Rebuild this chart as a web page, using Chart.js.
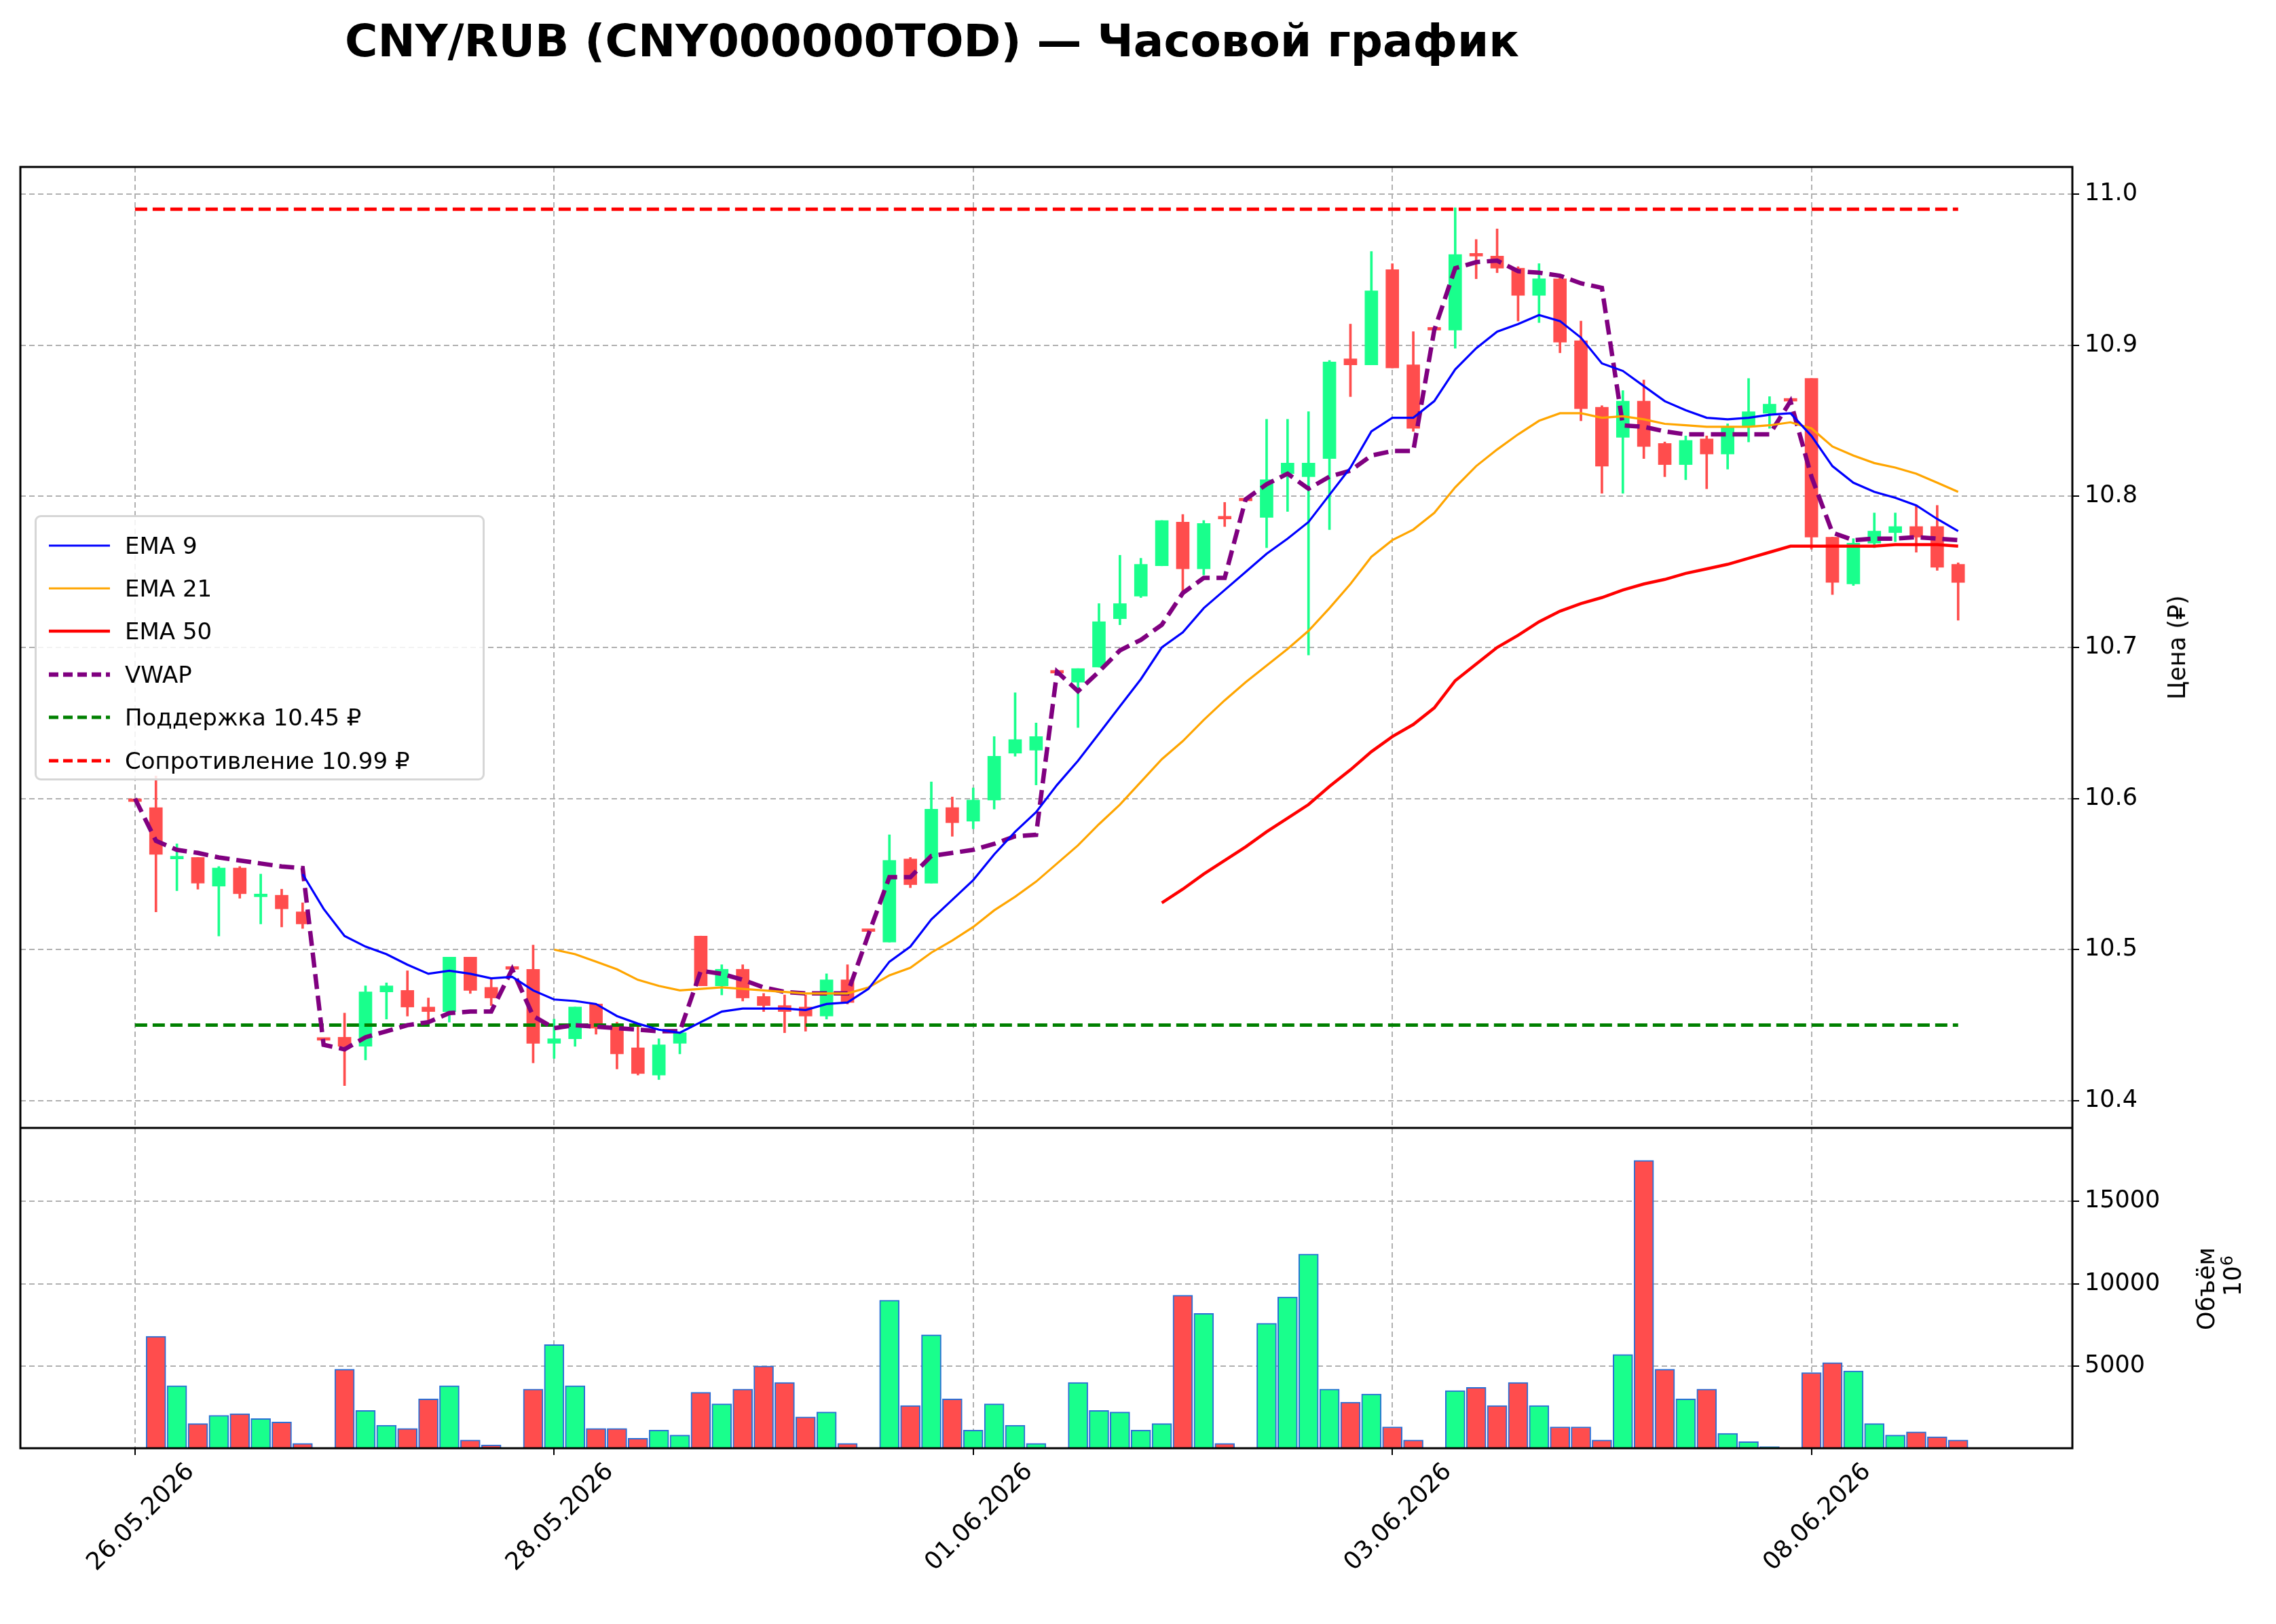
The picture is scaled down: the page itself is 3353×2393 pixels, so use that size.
<!DOCTYPE html>
<html><head><meta charset="utf-8">
<script src="https://cdn.jsdelivr.net/npm/chart.js@4.4.1/dist/chart.umd.min.js"></script>
<style>
body{margin:0;background:#fff;font-family:'DejaVu Sans',sans-serif;}
#wrap{position:relative;width:3353px;height:2393px;}
.ov{position:absolute;white-space:nowrap;color:#000;}
</style></head><body>
<div id="wrap"><canvas id="c" width="3353" height="2393"></canvas>
<div class="ov" style="left:1373px;top:60px;transform:translate(-50%,-50%);font-weight:bold;font-size:66px;">CNY/RUB (CNY000000TOD) — Часовой график</div>
<div class="ov" style="left:3207px;top:954px;transform:translate(-50%,-50%) rotate(-90deg);font-size:35px;">Цена (₽)</div>
<div class="ov" style="left:3250px;top:1899px;transform:translate(-50%,-50%) rotate(-90deg);font-size:35px;">Объём</div>
<div class="ov" style="left:3288px;top:1880px;transform:translate(-50%,-50%) rotate(-90deg);font-size:35px;">10<sup style="font-size:24px">6</sup></div>
<div id="legend" class="ov" style="left:51px;top:759px;width:657px;height:385px;border:3px solid #d6d6d6;border-radius:9px;background:rgba(255,255,255,0.85);"></div>
</div>
<script>
const tickIdx=[0,20,40,60,80];
const tickLabels=['26.05.2026','28.05.2026','01.06.2026','03.06.2026','08.06.2026'];
const openP=[10.598,10.594,10.560,10.561,10.542,10.554,10.535,10.536,10.525,10.440,10.442,10.436,10.472,10.473,10.462,10.459,10.495,10.475,10.487,10.487,10.438,10.441,10.464,10.450,10.435,10.417,10.438,10.509,10.476,10.487,10.469,10.463,10.462,10.456,10.480,10.512,10.505,10.560,10.544,10.594,10.585,10.599,10.630,10.632,10.683,10.677,10.687,10.719,10.734,10.754,10.783,10.752,10.786,10.797,10.786,10.815,10.813,10.825,10.891,10.887,10.950,10.887,10.910,10.910,10.960,10.959,10.951,10.933,10.944,10.903,10.859,10.839,10.863,10.835,10.821,10.838,10.828,10.846,10.855,10.863,10.878,10.773,10.742,10.769,10.776,10.780,10.780,10.755];
const highP=[10.598,10.615,10.570,10.561,10.555,10.555,10.550,10.540,10.531,10.440,10.458,10.476,10.478,10.486,10.468,10.495,10.495,10.481,10.487,10.503,10.454,10.462,10.464,10.452,10.450,10.441,10.445,10.509,10.490,10.490,10.471,10.470,10.470,10.484,10.490,10.512,10.576,10.561,10.611,10.601,10.607,10.641,10.670,10.650,10.683,10.686,10.729,10.761,10.759,10.784,10.788,10.784,10.796,10.797,10.851,10.851,10.856,10.890,10.914,10.962,10.954,10.909,10.910,10.991,10.970,10.977,10.952,10.954,10.947,10.916,10.860,10.870,10.877,10.836,10.840,10.840,10.848,10.878,10.866,10.863,10.878,10.773,10.772,10.789,10.789,10.794,10.794,10.756];
const lowP=[10.598,10.525,10.539,10.540,10.509,10.534,10.517,10.515,10.514,10.440,10.410,10.427,10.454,10.456,10.453,10.452,10.471,10.463,10.487,10.425,10.428,10.436,10.444,10.421,10.417,10.414,10.431,10.476,10.470,10.466,10.459,10.445,10.446,10.454,10.464,10.512,10.505,10.541,10.544,10.575,10.580,10.593,10.628,10.609,10.683,10.647,10.687,10.715,10.733,10.754,10.737,10.748,10.780,10.797,10.766,10.790,10.695,10.778,10.866,10.887,10.885,10.843,10.910,10.898,10.944,10.948,10.916,10.915,10.895,10.850,10.802,10.802,10.825,10.813,10.811,10.805,10.818,10.836,10.845,10.863,10.765,10.735,10.741,10.766,10.770,10.763,10.751,10.718];
const closeP=[10.598,10.563,10.561,10.544,10.554,10.537,10.536,10.527,10.517,10.440,10.436,10.472,10.476,10.462,10.459,10.495,10.473,10.468,10.487,10.438,10.441,10.462,10.448,10.431,10.418,10.437,10.445,10.476,10.487,10.468,10.463,10.459,10.456,10.480,10.465,10.512,10.559,10.543,10.593,10.584,10.599,10.628,10.639,10.641,10.683,10.686,10.717,10.729,10.755,10.784,10.752,10.782,10.785,10.797,10.811,10.822,10.822,10.889,10.887,10.936,10.885,10.845,10.910,10.960,10.959,10.951,10.933,10.944,10.902,10.858,10.820,10.863,10.833,10.821,10.837,10.828,10.846,10.856,10.861,10.863,10.773,10.743,10.769,10.777,10.780,10.773,10.753,10.743];
const volume=[0,6800,3800,1500,2000,2100,1800,1600,300,0,4800,2300,1400,1200,3000,3800,500,200,0,3600,6300,3800,1200,1200,600,1100,800,3400,2700,3600,5000,4000,1900,2200,300,0,9000,2600,6900,3000,1100,2700,1400,300,0,4000,2300,2200,1100,1500,9300,8200,300,0,7600,9200,11800,3600,2800,3300,1300,500,0,3500,3700,2600,4000,2600,1300,1300,500,5700,17500,4800,3000,3600,900,400,100,0,4600,5200,4700,1500,800,1000,700,500];
const ema9=[null,null,null,null,null,null,null,null,10.550,10.527,10.509,10.502,10.497,10.490,10.484,10.486,10.484,10.481,10.482,10.473,10.467,10.466,10.464,10.456,10.451,10.447,10.445,10.452,10.459,10.461,10.461,10.461,10.460,10.464,10.465,10.474,10.492,10.502,10.520,10.533,10.546,10.563,10.578,10.591,10.609,10.625,10.643,10.661,10.679,10.700,10.710,10.726,10.738,10.750,10.762,10.772,10.783,10.801,10.819,10.843,10.852,10.852,10.863,10.884,10.898,10.909,10.914,10.920,10.916,10.905,10.888,10.883,10.873,10.863,10.857,10.852,10.851,10.852,10.854,10.855,10.840,10.820,10.809,10.803,10.799,10.794,10.785,10.777];
const ema21=[null,null,null,null,null,null,null,null,null,null,null,null,null,null,null,null,null,null,null,null,10.500,10.497,10.492,10.487,10.480,10.476,10.473,10.474,10.475,10.474,10.473,10.472,10.471,10.471,10.471,10.475,10.483,10.488,10.498,10.506,10.515,10.526,10.535,10.545,10.557,10.569,10.583,10.596,10.611,10.626,10.638,10.652,10.665,10.677,10.688,10.699,10.711,10.726,10.742,10.760,10.771,10.778,10.789,10.806,10.820,10.831,10.841,10.850,10.855,10.855,10.852,10.853,10.851,10.848,10.847,10.846,10.846,10.846,10.847,10.849,10.845,10.833,10.827,10.822,10.819,10.815,10.809,10.803];
const ema50=[null,null,null,null,null,null,null,null,null,null,null,null,null,null,null,null,null,null,null,null,null,null,null,null,null,null,null,null,null,null,null,null,null,null,null,null,null,null,null,null,null,null,null,null,null,null,null,null,null,10.531,10.540,10.550,10.559,10.568,10.578,10.587,10.596,10.608,10.619,10.631,10.641,10.649,10.660,10.678,10.689,10.700,10.708,10.717,10.724,10.729,10.733,10.738,10.742,10.745,10.749,10.752,10.755,10.759,10.763,10.767,10.767,10.767,10.767,10.767,10.768,10.768,10.768,10.767];
const vwap=[10.600,10.572,10.566,10.564,10.561,10.559,10.557,10.555,10.554,10.437,10.434,10.442,10.446,10.450,10.452,10.458,10.459,10.459,10.487,10.456,10.448,10.450,10.449,10.448,10.447,10.446,10.446,10.486,10.484,10.480,10.475,10.472,10.471,10.471,10.471,10.510,10.548,10.548,10.562,10.564,10.566,10.570,10.575,10.576,10.684,10.671,10.684,10.698,10.705,10.715,10.736,10.746,10.746,10.798,10.808,10.815,10.805,10.813,10.817,10.827,10.830,10.830,10.910,10.951,10.955,10.956,10.949,10.948,10.946,10.941,10.938,10.847,10.846,10.843,10.841,10.841,10.841,10.841,10.841,10.863,10.813,10.776,10.771,10.772,10.772,10.773,10.772,10.771];
const supportLvl=10.45, resistLvl=10.99;
const priceTicks=[10.4,10.5,10.6,10.7,10.8,10.9,11.0];
const volTicks=[5000,10000,15000];

const UP='#19ff8c', DN='#ff4d4d';
const n=openP.length;
const idx=[...Array(n).keys()];
const col=idx.map(i=>closeP[i]>openP[i]?UP:DN);
const pts=a=>idx.map(i=>({x:i,y:a[i]}));
const F="'DejaVu Sans'";
const frame={id:'frame',afterDraw(ch){const a=ch.chartArea,c=ch.ctx;c.save();c.strokeStyle='#000';c.lineWidth=3;c.strokeRect(a.left,a.top,a.right-a.left,a.bottom-a.top);const y=ch.scales.yVol.top;c.beginPath();c.moveTo(a.left,y);c.lineTo(a.right,y);c.stroke();c.restore();}};
const gridC={color:'#b0b0b0',lineWidth:2,tickColor:'#000',tickLength:10,tickWidth:2,offset:false};
new Chart(document.getElementById('c'),{
 data:{datasets:[
  {type:'line',label:'EMA 9',data:pts(ema9),borderColor:'#0000ff',borderWidth:3.2,pointRadius:0,order:0,yAxisID:'y'},
  {type:'line',label:'EMA 21',data:pts(ema21),borderColor:'#ffa500',borderWidth:3.2,pointRadius:0,order:0,yAxisID:'y'},
  {type:'line',label:'EMA 50',data:pts(ema50),borderColor:'#ff0000',borderWidth:4.5,pointRadius:0,order:0,yAxisID:'y'},
  {type:'line',label:'VWAP',data:pts(vwap),borderColor:'#800080',borderWidth:6.5,borderDash:[22,10],pointRadius:0,order:0,yAxisID:'y'},
  {type:'line',label:'sup',data:[{x:0,y:supportLvl},{x:n-1,y:supportLvl}],borderColor:'#008000',borderWidth:5,borderDash:[18,8],pointRadius:0,order:0,yAxisID:'y'},
  {type:'line',label:'res',data:[{x:0,y:resistLvl},{x:n-1,y:resistLvl}],borderColor:'#ff0000',borderWidth:5,borderDash:[18,8],pointRadius:0,order:0,yAxisID:'y'},
  {type:'bar',label:'wick',data:idx.map(i=>({x:i,y:[lowP[i],highP[i]]})),backgroundColor:col,barThickness:3,order:2,yAxisID:'y',grouped:false},
  {type:'bar',label:'body',data:idx.map(i=>({x:i,y:[openP[i],closeP[i]]})),backgroundColor:col,barThickness:19,minBarLength:4,order:1,yAxisID:'y',grouped:false},
  {type:'bar',label:'vol',data:idx.map(i=>({x:i,y:volume[i]})),backgroundColor:col,borderColor:'#2a6fd6',borderWidth:2,barThickness:29,order:3,yAxisID:'yVol',grouped:false}
 ]},
 options:{responsive:false,animation:false,
  layout:{padding:{left:30,top:246,right:0,bottom:0}},
  plugins:{legend:{display:false},tooltip:{enabled:false}},
  scales:{
   x:{type:'linear',min:-5.47,max:92.45,offset:false,bounds:'data',
     afterBuildTicks:s=>{s.ticks=tickIdx.map(v=>({value:v}));},
     afterFit:s=>{s.height=259;},
     ticks:{callback:v=>tickLabels[tickIdx.indexOf(v)]||'',minRotation:45,maxRotation:45,font:{family:F,size:36},color:'#000',padding:4,labelOffset:82},
     grid:{...gridC},border:{display:false,dash:[8,5]}},
   y:{type:'linear',position:'right',stack:'s',stackWeight:3,min:10.382,max:11.018,
     afterBuildTicks:s=>{s.ticks=priceTicks.map(v=>({value:v}));},
     afterFit:s=>{s.width=300;},
     ticks:{callback:v=>v.toFixed(1),font:{family:F,size:35},color:'#000',padding:8},
     grid:{...gridC},border:{display:false,dash:[8,5]}},
   yVol:{type:'linear',position:'right',stack:'s',stackWeight:1,min:0,max:19470,offset:false,
     afterBuildTicks:s=>{s.ticks=volTicks.map(v=>({value:v}));},
     afterFit:s=>{s.width=300;},
     ticks:{callback:v=>String(v),font:{family:F,size:35},color:'#000',padding:8},
     grid:{...gridC},border:{display:false,dash:[8,5]}}
  }},
 plugins:[frame]
});
const items=[['EMA 9','#0000ff',null,3.2],['EMA 21','#ffa500',null,3.2],['EMA 50','#ff0000',null,4.5],['VWAP','#800080','14,7',6.5],['Поддержка 10.45 ₽','#008000','14,7',5],['Сопротивление 10.99 ₽','#ff0000','14,7',5]];
const lg=document.getElementById('legend');
items.forEach((it,k)=>{const r=document.createElement('div');r.style.cssText=`position:absolute;left:0;top:${10+k*63.4}px;height:63px;display:flex;align-items:center;font-size:34px;font-family:${F}`;
 r.innerHTML=`<svg width="100" height="20" style="margin-left:16px"><line x1="2" y1="10" x2="92" y2="10" stroke="${it[1]}" stroke-width="${it[3]}" ${it[2]?`stroke-dasharray="${it[2]}"`:''}/></svg><span style="margin-left:14px">${it[0]}</span>`;lg.appendChild(r);});
</script></body></html>
